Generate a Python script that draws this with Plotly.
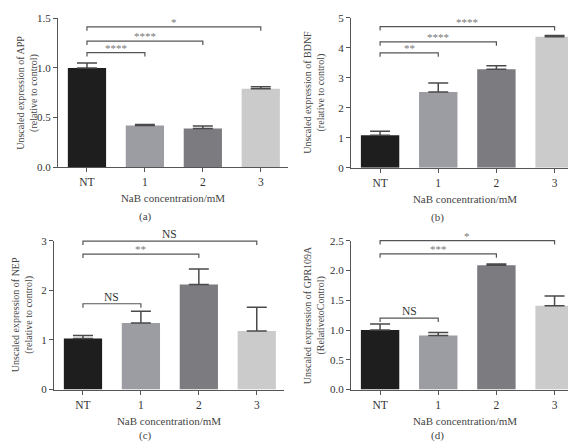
import plotly.graph_objects as go

W, H = 576, 445

categories = ["NT", "1", "2", "3"]
bar_colors = ["#1e1e1e", "#9c9ca3", "#7b7b80", "#cbcbcb"]

# Panel (a) APP
app_vals = [1.00, 0.42, 0.39, 0.79]
app_err = [0.05, 0.01, 0.025, 0.02]
app_brackets = [(0, 1, 1.155, "****"), (0, 2, 1.27, "****"), (0, 3, 1.415, "*")]
# Panel (b) BDNF
bdnf_vals = [1.08, 2.53, 3.29, 4.37]
bdnf_err = [0.14, 0.30, 0.11, 0.04]
bdnf_brackets = [(0, 1, 3.83, "**"), (0, 2, 4.20, "****"), (0, 3, 4.71, "****")]
# Panel (c) NEP
nep_vals = [1.03, 1.34, 2.12, 1.18]
nep_err = [0.06, 0.24, 0.31, 0.48]
nep_brackets = [(0, 1, 1.73, "NS"), (0, 2, 2.73, "**"), (0, 3, 2.99, "NS")]
# Panel (d) GPR109A
gpr_vals = [1.00, 0.91, 2.09, 1.41]
gpr_err = [0.10, 0.05, 0.02, 0.16]
gpr_brackets = [(0, 1, 1.20, "NS"), (0, 2, 2.28, "***"), (0, 3, 2.50, "*")]

y_titles = [
    "Unscaled expression of APP<br>(relative to control)",
    "Unscaled expression of BDNF<br>(relative to control)",
    "Unscaled expression of NEP<br>(relative to control)",
    "Unscaled expression of GPR109A<br>(RelativetoControl)",
]
x_title = "NaB concentration/mM"
panel_labels = ["(a)", "(b)", "(c)", "(d)"]

FONT = "Liberation Serif"
AX = "#555555"

panels = [
    dict(vals=app_vals, err=app_err, br=app_brackets, ymax=1.5, dtick=0.5, fmt=".1f",
         xpx=(50, 280), ypx=(4.5, 157.5), xr=(-0.5, 3.47), title_x=20, label_x=137, lab_dy=51),
    dict(vals=bdnf_vals, err=bdnf_err, br=bdnf_brackets, ymax=5, dtick=1, fmt="d",
         xpx=(343, 571), ypx=(4, 158), xr=(-0.5, 3.42), title_x=307, label_x=429, lab_dy=51),
    dict(vals=nep_vals, err=nep_err, br=nep_brackets, ymax=3, dtick=1, fmt="d",
         xpx=(46, 276), ypx=(233, 386), xr=(-0.5, 3.47), title_x=14, label_x=137, lab_dy=47),
    dict(vals=gpr_vals, err=gpr_err, br=gpr_brackets, ymax=2.5, dtick=0.5, fmt=".1f",
         xpx=(343, 571), ypx=(233, 386), xr=(-0.5, 3.42), title_x=306, label_x=429, lab_dy=47),
]

fig = go.Figure()
layout = dict(width=W, height=H, margin=dict(l=0, r=0, t=0, b=0),
              paper_bgcolor="white", plot_bgcolor="white", showlegend=False,
              font=dict(family=FONT, size=11, color="#333"))
shapes, annotations = [], []

for i, p in enumerate(panels):
    n = "" if i == 0 else str(i + 1)
    xa, ya = "x" + n, "y" + n
    xd = [p["xpx"][0] / W, p["xpx"][1] / W]
    yd = [1 - p["ypx"][1] / H, 1 - p["ypx"][0] / H]
    fig.add_trace(go.Bar(
        x=list(range(4)), y=p["vals"], width=0.66, marker=dict(color=bar_colors, line=dict(width=0)),
        error_y=dict(type="data", symmetric=False, array=p["err"], arrayminus=[0] * 4,
                     color="#4a4a4a", thickness=1.5, width=10),
        xaxis=xa, yaxis=ya, hoverinfo="skip"))
    layout["xaxis" + n] = dict(domain=xd, anchor=ya, range=list(p["xr"]), tickmode="array",
                               tickvals=list(range(4)), ticktext=categories, showline=True,
                               linecolor=AX, linewidth=1.3, ticks="outside", ticklen=4,
                               tickcolor=AX, tickwidth=1.2, showgrid=False, zeroline=False,
                               tickfont=dict(size=11.5, color="#333"),
                               title=dict(text=x_title, font=dict(size=11, color="#444"), standoff=7))
    layout["yaxis" + n] = dict(domain=yd, anchor=xa, range=[0, p["ymax"]], dtick=p["dtick"],
                               tickformat=p["fmt"], showline=True, linecolor=AX, linewidth=1.3,
                               ticks="outside", ticklen=4, tickcolor=AX, tickwidth=1.2,
                               showgrid=False, zeroline=False, tickfont=dict(size=11, color="#333"))
    # y title
    annotations.append(dict(text=y_titles[i], xref="paper", yref="paper",
                            x=p["title_x"] / W, y=(yd[0] + yd[1]) / 2, textangle=-90,
                            showarrow=False, xanchor="center", yanchor="middle",
                            font=dict(size=10, color="#444")))
    # panel label
    annotations.append(dict(text=panel_labels[i], xref="paper", yref="paper",
                            x=p["label_x"] / W, y=1 - (p["ypx"][1] + p["lab_dy"]) / H,
                            showarrow=False, xanchor="center", yanchor="middle",
                            font=dict(size=11, color="#444")))
    # brackets
    span = p["xr"][1] - p["xr"][0]
    hpx = p["ypx"][1] - p["ypx"][0]
    drop = 4.0 / hpx
    for a, b, yv, lab in p["br"]:
        x0 = (a - p["xr"][0]) / span
        x1 = (b - p["xr"][0]) / span
        yy = yv / p["ymax"]
        shapes.append(dict(type="path", xref=xa + " domain", yref=ya + " domain",
                           path=f"M {x0},{yy - drop} L {x0},{yy} L {x1},{yy} L {x1},{yy - drop}",
                           line=dict(color=AX, width=1.2)))
        is_ns = lab == "NS"
        annotations.append(dict(text=lab, xref=xa + " domain", yref=ya + " domain",
                                x=(x0 + x1) / 2, y=yy, yanchor="bottom", xanchor="center",
                                showarrow=False, yshift=-1 if is_ns else -3,
                                font=dict(size=11.5 if is_ns else 11,
                                          color="#333" if is_ns else "#777")))

layout["shapes"] = shapes
layout["annotations"] = annotations
fig.update_layout(**layout)
fig.write_html("out.html")
